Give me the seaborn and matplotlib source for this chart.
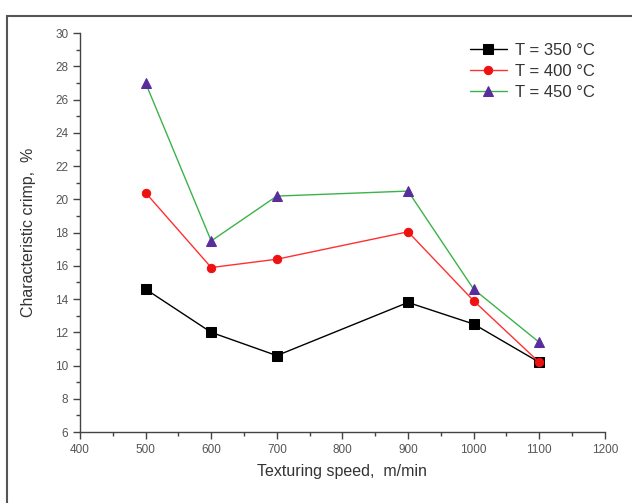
import matplotlib
matplotlib.use("Agg")
import matplotlib.pyplot as plt
import seaborn as sns
import pandas as pd
from matplotlib.ticker import MultipleLocator
from matplotlib.patches import Rectangle

speed = [500, 600, 700, 900, 1000, 1100]
crimp_350 = [14.6, 12.0, 10.6, 13.8, 12.5, 10.2]
crimp_400 = [20.4, 15.9, 16.4, 18.05, 13.9, 10.2]
crimp_450 = [27.0, 17.5, 20.2, 20.5, 14.6, 11.4]
labels = ["T = 350 °C", "T = 400 °C", "T = 450 °C"]

df = pd.DataFrame({
    "speed": speed * 3,
    "crimp": crimp_350 + crimp_400 + crimp_450,
    "series": [labels[0]] * 6 + [labels[1]] * 6 + [labels[2]] * 6,
})

sns.set_style("ticks")
plt.rcParams["font.family"] = ["Liberation Sans", "DejaVu Sans"]

fig = plt.figure(figsize=(6.32, 5.03), dpi=100)
ax = fig.add_axes([0.1266, 0.141, 0.8304, 0.793])

palette = {labels[0]: "#000000", labels[1]: "#ff3030", labels[2]: "#3cb34a"}
mcolors = {labels[0]: "#000000", labels[1]: "#ee1111", labels[2]: "#5a2d9c"}
markers = {labels[0]: "s", labels[1]: "o", labels[2]: "^"}
msizes = {labels[0]: 6.5, labels[1]: 6, labels[2]: 7.5}

for lab in labels:
    sub = df[df["series"] == lab]
    sns.lineplot(data=sub, x="speed", y="crimp", ax=ax, color=palette[lab],
                 lw=1.0, marker=markers[lab], markersize=msizes[lab],
                 markerfacecolor=mcolors[lab], markeredgecolor=mcolors[lab],
                 label=lab, legend=True)

ax.set_xlim(400, 1200)
ax.set_ylim(6, 30)
ax.xaxis.set_major_locator(MultipleLocator(100))
ax.xaxis.set_minor_locator(MultipleLocator(50))
ax.yaxis.set_major_locator(MultipleLocator(2))
ax.yaxis.set_minor_locator(MultipleLocator(1))
for s in ["top", "right"]:
    ax.spines[s].set_visible(False)
for s in ["left", "bottom"]:
    ax.spines[s].set_color("#444444")
    ax.spines[s].set_linewidth(1.0)
ax.tick_params(which="major", length=5, width=1, colors="#444444", labelsize=8.5, labelcolor="#555555")
ax.tick_params(which="minor", length=3, width=1, colors="#444444")
ax.set_xlabel("Texturing speed,  m/min", fontsize=11.5, color="#333333", labelpad=6)
ax.set_ylabel("Characteristic crimp,  %", fontsize=11.5, color="#333333", labelpad=14)

leg = ax.legend(loc="upper right", frameon=False, fontsize=12, handlelength=2.2,
                borderaxespad=0.2, labelspacing=0.35, handletextpad=0.5,
                bbox_to_anchor=(1.0, 1.0))
for t in leg.get_texts():
    t.set_color("#333333")

fig.patches.append(Rectangle((7 / 632, -0.01), 1.0, 1 - 16 / 503 + 0.01,
                             transform=fig.transFigure, fill=False,
                             edgecolor="#555555", lw=1.5))

fig.savefig("out.png", dpi=100)
